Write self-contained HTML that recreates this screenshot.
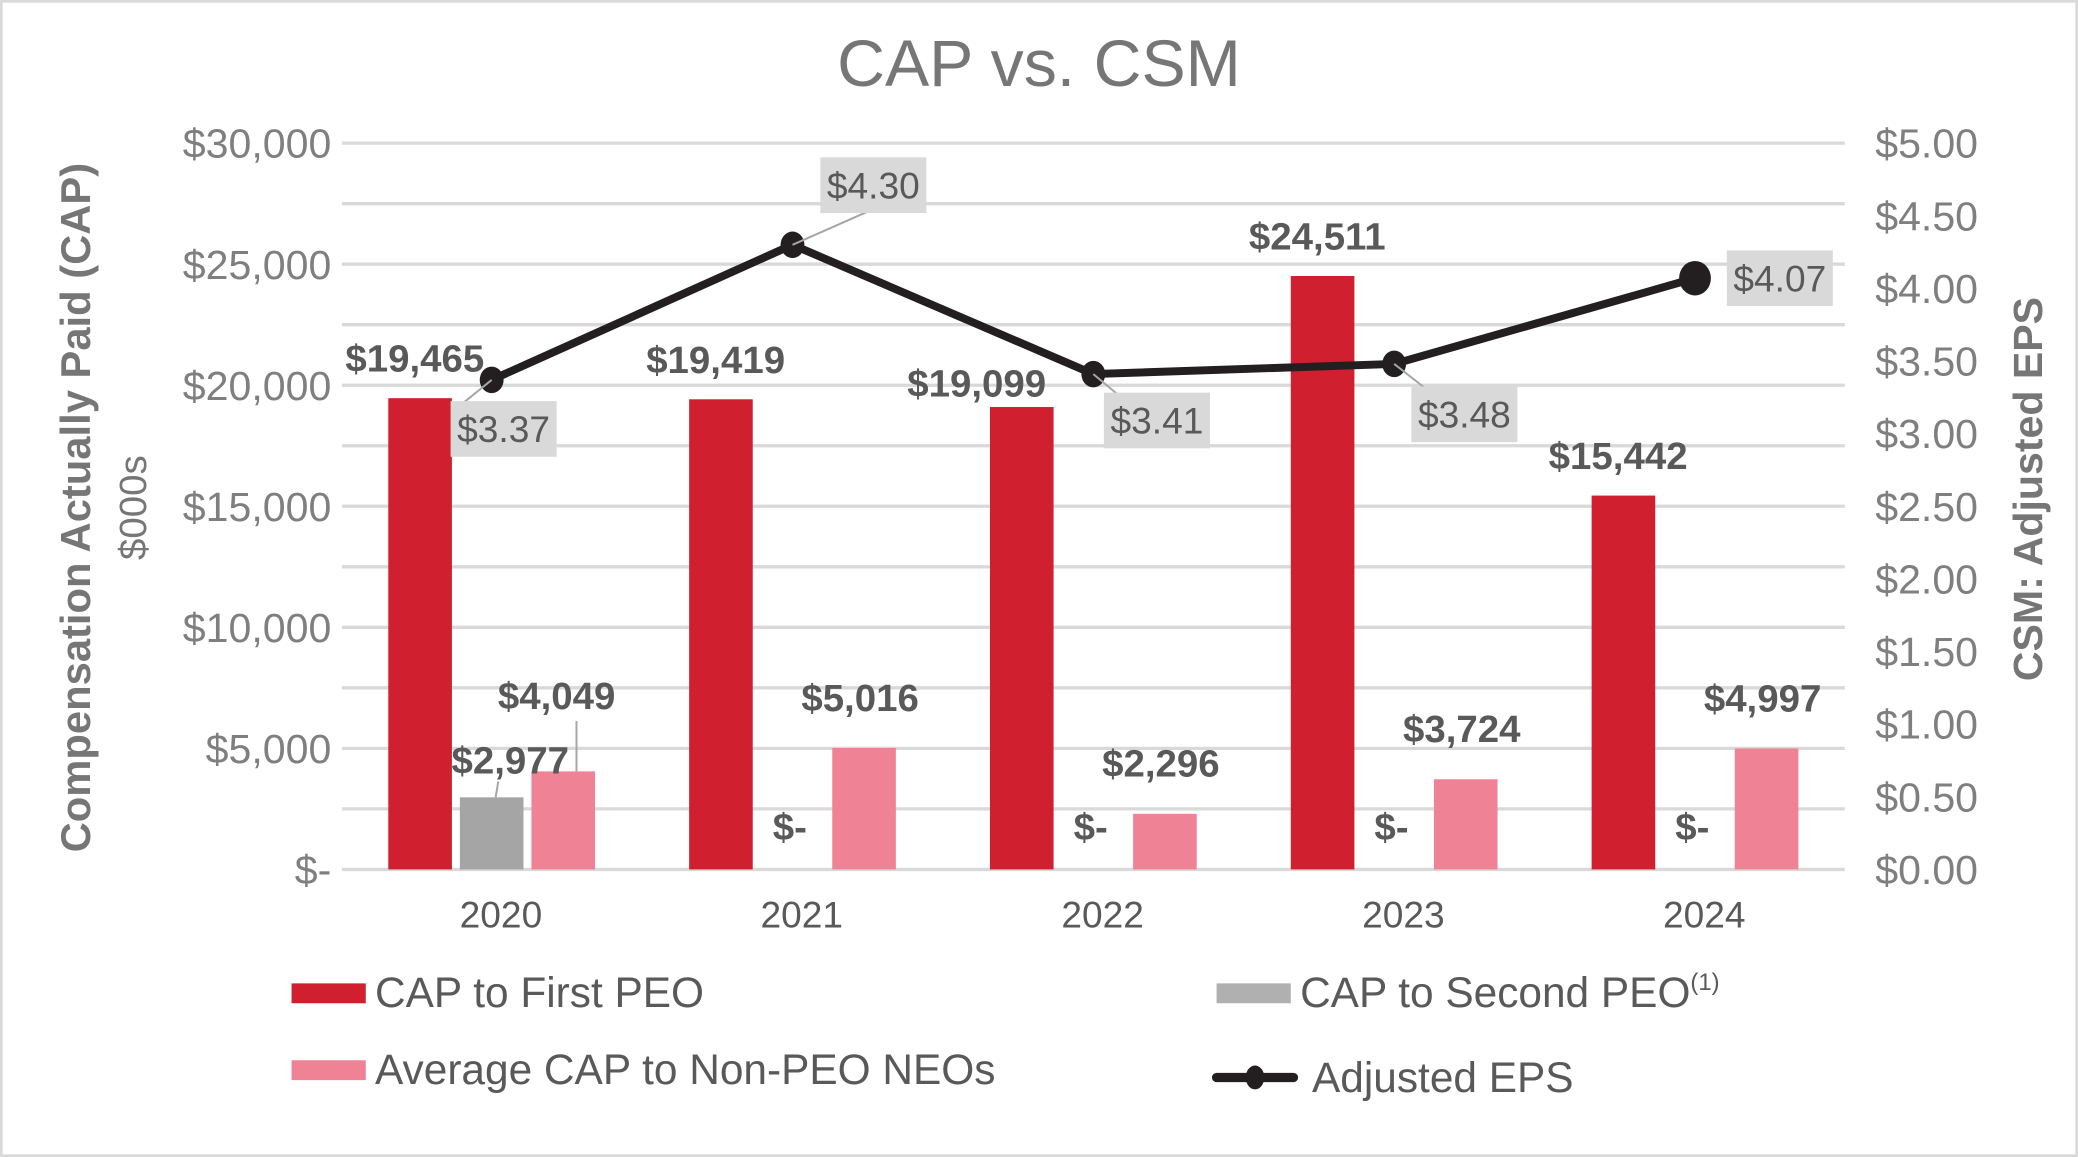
<!DOCTYPE html>
<html><head><meta charset="utf-8"><title>CAP vs. CSM</title>
<style>
html,body{margin:0;padding:0;background:#fff;}
svg{display:block;}
text{font-family:"Liberation Sans",sans-serif;}
</style></head>
<body>
<svg id="chart" width="2078" height="1157" viewBox="0 0 1568 873" preserveAspectRatio="none" xmlns="http://www.w3.org/2000/svg">
<rect x="1" y="1" width="1566" height="871" fill="#fff" stroke="#d9d9d9" stroke-width="2"/>
<text x="784" y="65" text-anchor="middle" font-size="50" fill="#767676">CAP vs. CSM</text>
<g id="grid"></g>
<g id="yleft"></g>
<g id="yright"></g>
<g id="bars"></g>
<g id="line"></g>
<g id="labels"></g>
<g id="xaxis"></g>
<text transform="translate(68,383) rotate(-90)" text-anchor="middle" font-size="31.5" font-weight="bold" fill="#767676">Compensation Actually Paid (CAP)</text>
<text transform="translate(110,383) rotate(-90)" text-anchor="middle" font-size="29" fill="#767676">$000s</text>
<text transform="translate(1541,369) rotate(-90)" text-anchor="middle" font-size="31" font-weight="bold" fill="#767676">CSM: Adjusted EPS</text>
<g>
 <g>
  <rect x="220" y="742" width="56" height="15" fill="#d01f2f"/>
  <text x="283" y="760" font-size="32" fill="#595959">CAP to First PEO</text>
 </g>
 <g>
  <rect x="918" y="742" width="56" height="15" fill="#b0b0b0"/>
  <text x="981" y="760" font-size="32" fill="#595959">CAP to Second PEO<tspan font-size="18" dy="-13">(1)</tspan></text>
 </g>
 <g>
  <rect x="220" y="800" width="56" height="15" fill="#f08296"/>
  <text x="283" y="818" font-size="32" fill="#595959">Average CAP to Non-PEO NEOs</text>
 </g>
 <g>
  <line x1="918" y1="813" x2="976" y2="813" stroke="#231f20" stroke-width="7" stroke-linecap="round"/>
  <ellipse cx="947" cy="813" rx="7" ry="9" fill="#231f20"/>
  <text x="990" y="824" font-size="32" fill="#595959">Adjusted EPS</text>
 </g>
</g>
</svg>
<script>
const years = ["2020","2021","2022","2023","2024"];
const firstPeo = [19465, 19419, 19099, 24511, 15442];
const secondPeo = [2977, 0, 0, 0, 0];
const nonPeo = [4049, 5016, 2296, 3724, 4997];
const eps = [3.37, 4.30, 3.41, 3.48, 4.07];
const leftTicks = ["$-","$5,000","$10,000","$15,000","$20,000","$25,000","$30,000"];
const rightTicks = ["$0.00","$0.50","$1.00","$1.50","$2.00","$2.50","$3.00","$3.50","$4.00","$4.50","$5.00"];

const NS="http://www.w3.org/2000/svg";
const X0=258, X1=1392, Y0=656, Y1=108;
const yL=v=>Y0-(v/30000)*(Y0-Y1);
const yR=v=>Y0-(v/5)*(Y0-Y1);
const xc=i=>378+i*227;
function mk(tag,attrs,parent,txt){const e=document.createElementNS(NS,tag);for(const k in attrs)e.setAttribute(k,attrs[k]);if(txt!==undefined)e.textContent=txt;parent.appendChild(e);return e;}
const fmt=v=>v===0?"$-":"$"+v.toLocaleString("en-US");

const grid=document.getElementById('grid');
for(let v=0;v<=30000;v+=2500){
  const l=mk('line',{x1:X0,x2:X1,y1:yL(v),y2:yL(v),stroke:'#d9d9d9','stroke-width':2.5},grid);
  
  
}
const yl=document.getElementById('yleft');
leftTicks.forEach((t,i)=>{
  const e=mk('text',{x:250,y:yL(i*5000)+11,'text-anchor':'end','font-size':31,fill:'#7f7f7f'},yl,t);
  
  
});
const yr=document.getElementById('yright');
rightTicks.forEach((t,i)=>{
  const e=mk('text',{x:1415,y:yR(i*0.5)+11,'font-size':31,fill:'#7f7f7f'},yr,t);
  
  
});
const xa=document.getElementById('xaxis');
years.forEach((y,i)=>{
  const e=mk('text',{x:xc(i),y:700,'text-anchor':'middle','font-size':28,fill:'#595959'},xa,y);
  
  
});

const bars=document.getElementById('bars'), lab=document.getElementById('labels');
const BW=48;
function label(x,y,t){const e=mk('text',{x:x,y:y,'text-anchor':'middle','font-size':29,'font-weight':'bold',fill:'#595959'},lab,t);
  
  return e;}
years.forEach((yr_,i)=>{
  const c=xc(i);
  const rx=c-85, gx=c-31, px=c+23;
  const r=mk('rect',{x:rx,y:yL(firstPeo[i]),width:BW,height:Y0-yL(firstPeo[i]),fill:'#d01f2f'},bars);
  
  
  if(secondPeo[i]>0){
    const g=mk('rect',{x:gx,y:yL(secondPeo[i]),width:BW,height:Y0-yL(secondPeo[i]),fill:'#a5a5a5'},bars);
    
    
  }
  const p=mk('rect',{x:px,y:yL(nonPeo[i]),width:BW,height:Y0-yL(nonPeo[i]),fill:'#f08296'},bars);
  
  
  const rn = i===2?[-34,12]:[-4,0];
  label(rx+BW/2+rn[0], yL(firstPeo[i])-20+rn[1], fmt(firstPeo[i]));
  if(secondPeo[i]>0){
    label(gx+BW/2+14, yL(secondPeo[i])-18, fmt(secondPeo[i]));
    const ll=mk('line',{x1:gx+BW/2+3,y1:yL(secondPeo[i]),x2:gx+BW/2+5,y2:yL(secondPeo[i])-12,stroke:'#a6a6a6','stroke-width':1.5},lab);
    
    
    label(px+BW/2-5, yL(nonPeo[i])-47, fmt(nonPeo[i]));
    const l2=mk('line',{x1:px+BW/2+10,y1:yL(nonPeo[i]),x2:px+BW/2+10,y2:yL(nonPeo[i])-38,stroke:'#a6a6a6','stroke-width':1.5},lab);
    
    
  } else {
    label(gx+BW/2-2, Y0-22, "$-");
    label(px+BW/2-3, yL(nonPeo[i])-28, fmt(nonPeo[i]));
  }
});

const lg=document.getElementById('line');
const pts=eps.map((v,i)=>[xc(i)-7,yR(v)]);
const pl=mk('polyline',{points:pts.map(p=>p.join(',')).join(' '),fill:'none',stroke:'#231f20','stroke-width':6,'stroke-linejoin':'round'},lg);


const boxOff=[[9,37],[61,-45],[48,35],[53,38],[64,0]];
pts.forEach((p,i)=>{
  const last=i===pts.length-1;
  const m=mk('ellipse',{cx:p[0],cy:p[1],rx:last?12:9,ry:last?13:10,fill:'#231f20'},lg);
  
  
  const bx=p[0]+boxOff[i][0], by=p[1]+boxOff[i][1];
  if(!last){
    const ld=mk('line',{x1:p[0],y1:p[1],x2:bx-(i===1?22:30)*(i===1?0.2:1),y2:by-(i===1?-20:20),stroke:'#a6a6a6','stroke-width':1.5},lab);
    
    
  }
  const b=mk('rect',{x:bx-40,y:by-21,width:80,height:42,fill:'#d9d9d9'},lab);
  
  
  const t=mk('text',{x:bx,y:by+10,'text-anchor':'middle','font-size':28,fill:'#595959'},lab,"$"+eps[i].toFixed(2));
  
  
});
</script>
</body></html>
